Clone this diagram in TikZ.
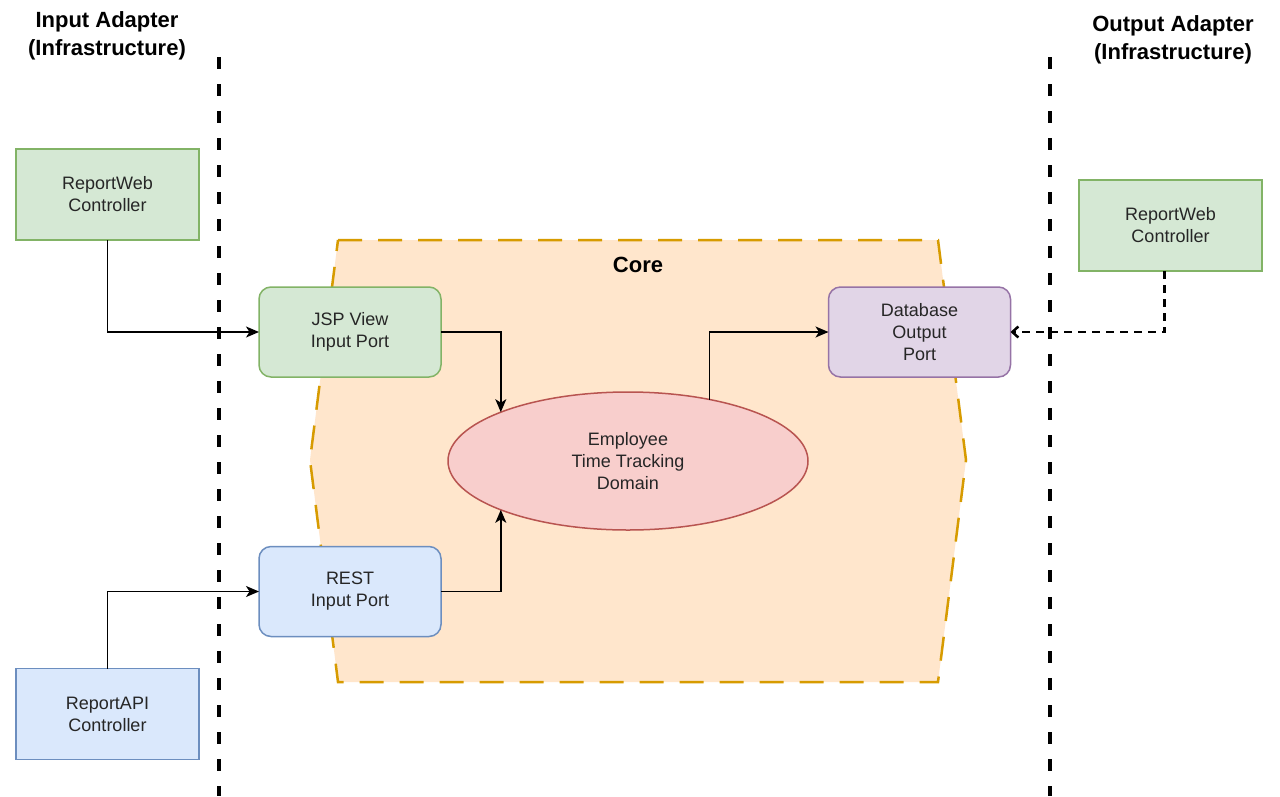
\documentclass[tikz,border=0pt]{standalone}
\usepackage{fontspec}
\setmainfont{Liberation Sans}
\usetikzlibrary{shapes.geometric,arrows.meta,calc}
\definecolor{gfill}{HTML}{D5E8D4}\definecolor{gline}{HTML}{82B366}
\definecolor{bfill}{HTML}{DAE8FC}\definecolor{bline}{HTML}{6C8EBF}
\definecolor{pfill}{HTML}{E1D5E7}\definecolor{pline}{HTML}{9673A6}
\definecolor{rfill}{HTML}{F8CECC}\definecolor{rline}{HTML}{B85450}
\definecolor{ofill}{HTML}{FFE6CC}\definecolor{oline}{HTML}{D79B00}
\begin{document}
\begin{tikzpicture}[x=1pt,y=-1pt,
  boxtext/.style={font=\fontsize{18}{22}\selectfont, align=center, text=black!85, inner sep=0pt, outer sep=0pt},
  ctrl/.style={boxtext, rectangle, line width=1.5pt, minimum width=183pt, minimum height=91pt},
  port/.style={boxtext, rectangle, rounded corners=12pt, line width=1.5pt, minimum width=182pt, minimum height=90pt},
  titletext/.style={font=\fontsize{22}{28}\selectfont\bfseries, align=center, inner sep=0pt},
  border/.style={line width=4pt, dash pattern=on 12pt off 15pt},
  conn/.style={line width=1.5pt, -{Stealth[length=13pt,width=11pt,inset=3.5pt]}},
  dconn/.style={line width=2.5pt, dash pattern=on 8pt off 6pt, -{Straight Barb[length=6pt,width=11pt]}}
]
\useasboundingbox (0,0) rectangle (1280,796);
\fill[white] (0,0) rectangle (1280,796);

% core region
\draw[fill=ofill, draw=oline, line width=2.5pt, dash pattern=on 24pt off 16pt]
  (338,240) -- (938,240) -- (966,460) -- (938,682) -- (338,682) -- (310,460) -- cycle;
\node[titletext] (core) at (638,265) {Core};

% adapter borders
\draw[border] (219,57) -- (219,796);
\draw[border] (1050,57) -- (1050,796);

% titles
\node[titletext] (tin) at (107,36) {Input Adapter\\(Infrastructure)};
\node[titletext] (tout) at (1173,39.5) {Output Adapter\\(Infrastructure)};

% controllers
\node[ctrl, fill=gfill, draw=gline] (rw1) at (107.5,194.5) {ReportWeb\\Controller};
\node[ctrl, fill=bfill, draw=bline] (api) at (107.5,714) {ReportAPI\\Controller};
\node[ctrl, fill=gfill, draw=gline] (rw2) at (1170.5,225.5) {ReportWeb\\Controller};

% ports
\node[port, fill=gfill, draw=gline] (jsp) at (350,332) {JSP View\\Input Port};
\node[port, fill=bfill, draw=bline] (rest) at (350,591.5) {REST\\Input Port};
\node[port, fill=pfill, draw=pline] (db) at (919.5,332) {Database\\Output\\Port};

% domain
\node[boxtext, ellipse, fill=rfill, draw=rline, line width=1.5pt, minimum width=360pt, minimum height=138pt] (dom) at (628,461) {Employee\\Time Tracking\\Domain};

% connectors
\draw[conn] (rw1.south) |- (jsp.west);
\draw[conn] (api.north) |- (rest.west);
\draw[conn] (jsp.east) -| (dom.159);
\draw[conn] (rest.east) -| (dom.201.2);
\draw[conn] (dom.37.7) |- (db.west);
\coordinate (rw2s) at ([xshift=-6pt]rw2.south);
\draw[dconn] (rw2s) |- (db.east);
\end{tikzpicture}
\end{document}
